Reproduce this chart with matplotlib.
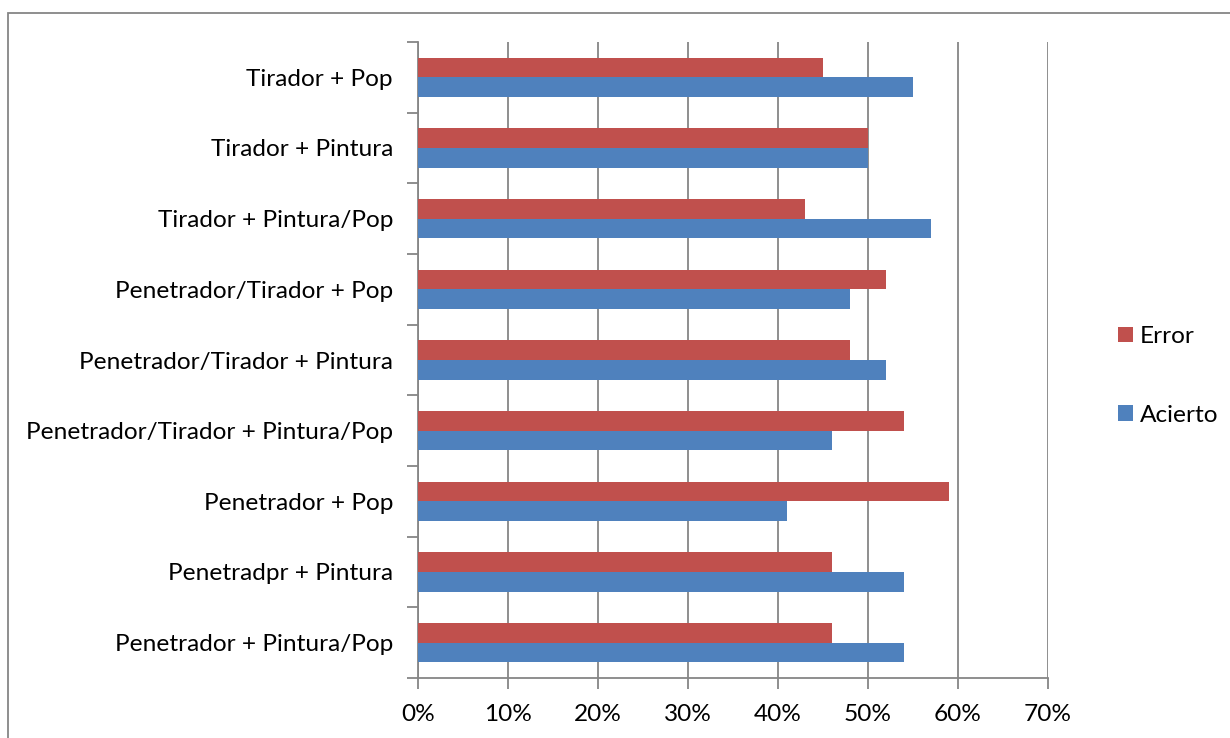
import matplotlib
matplotlib.use("Agg")
import matplotlib.pyplot as plt
from matplotlib.patches import Rectangle
import numpy as np

categories = [
    "Tirador + Pop",
    "Tirador + Pintura",
    "Tirador + Pintura/Pop",
    "Penetrador/Tirador + Pop",
    "Penetrador/Tirador + Pintura",
    "Penetrador/Tirador + Pintura/Pop",
    "Penetrador + Pop",
    "Penetradpr + Pintura",
    "Penetrador + Pintura/Pop",
]
error = [45, 50, 43, 52, 48, 54, 59, 46, 46]
acierto = [55, 50, 57, 48, 52, 46, 41, 54, 54]
xticks = [0, 10, 20, 30, 40, 50, 60, 70]
xticklabels = ["0%", "10%", "20%", "30%", "40%", "50%", "60%", "70%"]

RED = "#C0504D"
BLUE = "#4F81BD"
GRID = "#868686"

plt.rcParams['font.family'] = ['Lato', 'DejaVu Sans']
FS = 17.6

W, H = 1230, 738
fig = plt.figure(figsize=(W / 100, H / 100), dpi=100)
ax = fig.add_axes([418 / W, 1 - 678 / H, (1048 - 418) / W, (678 - 42) / H])

y = np.arange(len(categories))
h = 0.28
ax.barh(y - h / 2, error, height=h, color=RED, label="Error", zorder=3)
ax.barh(y + h / 2, acierto, height=h, color=BLUE, label="Acierto", zorder=3)

ax.set_xlim(0, 70)
ax.set_ylim(len(categories) - 0.5, -0.5)
ax.set_xticks(xticks)
ax.set_xticklabels(xticklabels, fontsize=FS)
ax.set_yticks(y)
ax.set_yticklabels(categories, fontsize=FS)
ax.set_yticks(np.arange(len(categories) + 1) - 0.5, minor=True)
ax.tick_params(axis='y', which='major', length=0, pad=18)
ax.tick_params(axis='y', which='minor', length=8, width=1.3, color=GRID, direction='out')
ax.tick_params(axis='x', which='major', length=8, width=1.3, color=GRID, direction='out', pad=11)

ax.xaxis.grid(True, color=GRID, linewidth=1.3, zorder=0)
ax.set_axisbelow(True)
for s in ['top', 'right']:
    ax.spines[s].set_visible(False)
for s in ['left', 'bottom']:
    ax.spines[s].set_color(GRID)
    ax.spines[s].set_linewidth(1.3)

# Legend
handles, labels = ax.get_legend_handles_labels()
leg = fig.legend(handles, labels, loc='center left',
                 bbox_to_anchor=(1096 / W, 1 - 376 / H), frameon=False,
                 fontsize=FS, handlelength=0.6, handleheight=0.6,
                 handletextpad=0.3, labelspacing=2.35)

# Outer chart border
fig.patches.append(Rectangle((8 / W, -0.05), 1.1, 1 - 13 / H + 0.05,
                             transform=fig.transFigure, fill=False,
                             edgecolor=GRID, linewidth=1.3))

fig.savefig("out.png", dpi=100)
